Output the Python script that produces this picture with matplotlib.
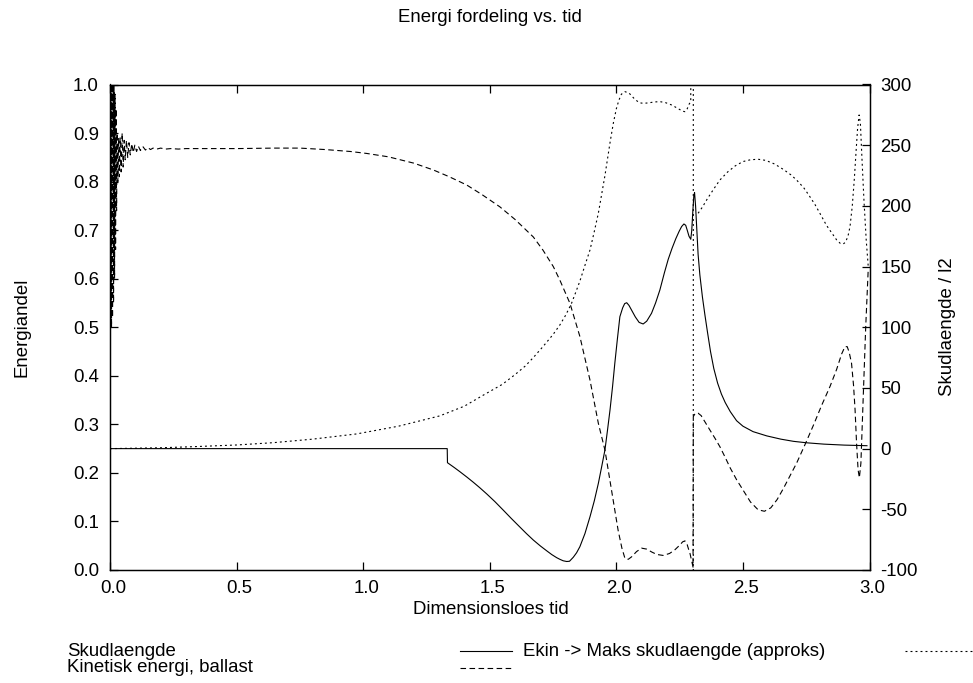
import matplotlib
matplotlib.use("Agg")
import matplotlib.pyplot as plt
import matplotlib.transforms as mtransforms
from matplotlib.lines import Line2D

plt.rcParams["font.family"] = ["Liberation Sans", "DejaVu Sans"]
plt.rcParams["font.size"] = 13.4
plt.rcParams["lines.scale_dashes"] = False

NAN = float("nan")

# Skudlaengde (right axis)
t_range = [0.0, 1.332, 1.333, 1.360, 1.382, 1.410, 1.435, 1.460, 1.488, 1.520, 1.553, 1.585,
           1.619, 1.645, 1.672, 1.700, 1.725, 1.745, 1.764, 1.777, 1.790, 1.804, 1.815, 1.830,
           1.843, 1.856, 1.876, 1.896, 1.913, 1.929, 1.942, 1.955, 1.965, 1.975, 1.985, 1.994,
           2.004, 2.014, 2.025, 2.033, 2.041, 2.050, 2.060, 2.075, 2.090, 2.106, 2.120, 2.139,
           2.155, 2.172, 2.190, 2.205, 2.220, 2.235, 2.248, 2.258, 2.267, 2.274, 2.280, 2.287,
           2.294, 2.298, 2.302, 2.306, 2.309, 2.313, 2.318, 2.323, 2.330, 2.340, 2.350, 2.360,
           2.372, 2.385, 2.400, 2.415, 2.430, 2.450, 2.475, 2.500, 2.540, 2.594, 2.650, 2.700,
           2.752, 2.820, 2.900, 2.990]
range_vals = [0.0, 0.0, -11.6, -15.6, -19.0, -23.5, -27.7, -32.1, -37.3, -43.6, -50.6, -57.5,
              -64.6, -70.0, -75.3, -80.2, -84.2, -87.3, -89.8, -91.2, -92.4, -93.0, -92.8, -89.5,
              -85.8, -80.8, -70.0, -56.1, -43.0, -28.6, -15.0, -1.1, 15.0, 31.8, 51.0, 70.3,
              90.0, 108.7, 116.0, 119.5, 120.2, 118.0, 114.2, 108.5, 104.0, 102.7, 105.0, 111.5,
              120.0, 130.7, 145.0, 156.0, 165.0, 173.0, 179.0, 183.0, 185.1, 184.0, 180.0, 175.0,
              172.5, 180.0, 195.0, 208.0, 210.9, 200.0, 180.0, 160.0, 143.0, 125.0, 110.0, 96.0,
              80.0, 66.0, 54.0, 45.0, 38.0, 30.5, 23.0, 18.5, 14.0, 10.5, 7.8, 6.0,
              4.8, 3.7, 2.9, 2.4]

# Ekin -> Maks skudlaengde (approks) (right axis)
t_approx = [0.0, 0.200, 0.329, 0.500, 0.645, 0.800, 0.974, 1.140, 1.303, 1.400, 1.474, 1.550,
            1.600, 1.640, 1.672, 1.710, 1.750, 1.777, 1.800, 1.823, 1.840, 1.856, 1.876, 1.896,
            1.912, 1.929, 1.955, 1.975, 1.988, 2.000, 2.010, 2.020, 2.034, 2.050, 2.070, 2.090,
            2.106, 2.125, 2.150, 2.172, 2.195, 2.220, 2.245, 2.262, 2.271, 2.280, 2.288, 2.294,
            2.303, 2.304, 2.304, NAN, 2.323, 2.340, 2.360, 2.385, 2.409, 2.440, 2.470, 2.500,
            2.530, 2.560, 2.590, 2.625, 2.660, 2.690, 2.712, 2.740, 2.760, 2.785, 2.804, 2.830,
            2.850, 2.870, 2.885, 2.896, 2.905, 2.915, 2.923, 2.932, 2.940, 2.947, 2.953, 2.959,
            2.964, 2.970, 2.978, 2.987, 2.995]
approx_vals = [0.0, 0.7, 1.6, 3.0, 4.9, 7.8, 12.1, 18.5, 27.0, 35.0, 44.0, 53.0,
               61.0, 68.0, 75.0, 84.0, 94.0, 101.9, 110.0, 119.7, 129.0, 138.0, 151.0, 163.7,
               178.0, 194.0, 225.0, 252.0, 268.0, 280.0, 287.0, 292.0, 294.1, 293.0, 288.5, 285.0,
               284.5, 284.8, 285.6, 285.9, 285.0, 283.0, 280.0, 278.0, 277.6, 280.0, 284.0, 285.9,
               1500.0, 1500.0, -1500.0, NAN, 193.9, 199.0, 206.0, 214.0, 221.3, 228.0, 233.0, 236.5,
               238.0, 238.4, 237.5, 234.5, 230.0, 225.5, 221.3, 215.0, 209.0, 201.0, 193.9, 184.0,
               178.0, 172.0, 169.0, 168.6, 170.0, 175.0, 182.9, 200.0, 222.0, 245.0, 264.0, 274.9,
               268.0, 240.0, 205.0, 172.0, 150.0]

# Kinetisk energi, ballast (left axis)
t_kin = [0.000, 0.002, 0.004, 0.006, 0.008, 0.010, 0.012, 0.014, 0.016, 0.018, 0.020, 0.022,
         0.024, 0.026, 0.028, 0.031, 0.034, 0.037, 0.040, 0.044, 0.048, 0.052, 0.056, 0.060,
         0.065, 0.070, 0.075, 0.080, 0.086, 0.092, 0.098, 0.105, 0.112, 0.120, 0.130, 0.140,
         0.150, 0.160, 0.170, 0.185, 0.200, 0.220, 0.240, 0.270, 0.300, 0.500, 0.650, 0.750,
         0.850, 0.950, 1.014, 1.100, 1.200, 1.277, 1.340, 1.409, 1.470, 1.540, 1.600, 1.672,
         1.710, 1.751, 1.777, 1.817, 1.856, 1.896, 1.929, 1.955, 1.981, 2.007, 2.022, 2.034,
         2.047, 2.060, 2.080, 2.100, 2.120, 2.140, 2.160, 2.185, 2.210, 2.230, 2.250, 2.262,
         2.271, 2.280, 2.287, 2.291, 2.297, 2.303, 2.304, 2.312, 2.323, 2.335, 2.350, 2.370,
         2.390, 2.409, 2.430, 2.450, 2.475, 2.500, 2.530, 2.560, 2.585, 2.610, 2.635, 2.660,
         2.685, 2.712, 2.745, 2.780, 2.810, 2.844, 2.870, 2.890, 2.903, 2.912, 2.920, 2.929,
         2.937, 2.943, 2.949, 2.955, 2.960, 2.966, 2.975, 2.985, 2.995]
kin_vals = [1.02, 0.50, 1.03, 0.50, 1.02, 0.52, 1.01, 0.55, 1.00, 0.60, 0.98, 0.66,
            0.95, 0.74, 0.90, 0.80, 0.89, 0.81, 0.89, 0.82, 0.90, 0.83, 0.885, 0.845,
            0.885, 0.85, 0.88, 0.855, 0.878, 0.86, 0.875, 0.862, 0.873, 0.864, 0.872, 0.865,
            0.870, 0.866, 0.869, 0.867, 0.869, 0.867, 0.868, 0.867, 0.868, 0.868, 0.869, 0.869,
            0.866, 0.862, 0.858, 0.851, 0.838, 0.824, 0.810, 0.793, 0.773, 0.748, 0.722, 0.686,
            0.659, 0.625, 0.597, 0.549, 0.481, 0.391, 0.302, 0.247, 0.165, 0.082, 0.045, 0.024,
            0.022, 0.027, 0.038, 0.045, 0.043, 0.037, 0.032, 0.030, 0.034, 0.041, 0.051, 0.058,
            0.060, 0.052, 0.040, 0.034, 0.020, 0.006, 0.316, 0.323, 0.323, 0.318, 0.305, 0.288,
            0.271, 0.254, 0.232, 0.210, 0.186, 0.165, 0.140, 0.124, 0.121, 0.128, 0.145, 0.168,
            0.193, 0.220, 0.258, 0.300, 0.338, 0.378, 0.413, 0.445, 0.460, 0.460, 0.448, 0.426,
            0.380, 0.330, 0.260, 0.206, 0.190, 0.220, 0.350, 0.500, 0.620]

x_ticks = [0.0, 0.5, 1.0, 1.5, 2.0, 2.5, 3.0]
y_ticks = [0.0, 0.1, 0.2, 0.3, 0.4, 0.5, 0.6, 0.7, 0.8, 0.9, 1.0]
y2_ticks = [-100, -50, 0, 50, 100, 150, 200, 250, 300]

DASHED = (0, (4.0, 2.5))
DOTTED = (0, (1.4, 2.2))

fig = plt.figure(figsize=(9.73, 6.83), dpi=100)
ax = fig.add_axes([110 / 973, 1 - 570 / 683, 759.5 / 973, 485.5 / 683])
ax2 = ax.twinx()

ax2.plot(t_range, range_vals, color="black", lw=0.8)
ax2.plot(t_approx, approx_vals, color="black", lw=0.8, linestyle=DOTTED)
ax.plot(t_kin, kin_vals, color="black", lw=0.8, linestyle=DASHED)

ax.set_xlim(0, 3)
ax.set_ylim(0, 1)
ax2.set_ylim(-100, 300)
ax.set_xticks(x_ticks)
ax.set_xticklabels([f"{v:.1f}" for v in x_ticks])
ax.set_yticks(y_ticks)
ax.set_yticklabels([f"{v:.1f}" for v in y_ticks])
ax2.set_yticks(y2_ticks)
ax2.set_yticklabels([str(v) for v in y2_ticks])

ax.tick_params(axis="x", direction="in", length=6, width=0.9, top=True, pad=7)
ax.tick_params(axis="y", direction="in", length=6, width=0.9, pad=8)
ax2.tick_params(axis="y", direction="in", length=6, width=0.9, pad=8)
for a in (ax, ax2):
    for s in a.spines.values():
        s.set_linewidth(0.9)

# gnuplot puts the x labels a few pixels right of the tick
shift = mtransforms.ScaledTranslation(3 / 100, 0, fig.dpi_scale_trans)
for lab in ax.get_xticklabels():
    lab.set_transform(lab.get_transform() + shift)

fig.text(0.5033, 1 - 18 / 683, "Energi fordeling vs. tid", ha="center", va="center")
fig.text(0.5046, 1 - 609 / 683, "Dimensionsloes tid", ha="center", va="center")
fig.text(22 / 973, 1 - 327 / 683, "Energiandel", rotation=90, ha="center", va="center")
fig.text(948 / 973, 1 - 327 / 683, "Skudlaengde / l2", rotation=90, ha="center", va="center")

# key below the plot, two columns like gnuplot
row1 = 1 - 651 / 683
row2 = 1 - 668 / 683
fig.text(67 / 973, row1, "Skudlaengde", ha="left", va="center")
fig.text(67 / 973, row2, "Kinetisk energi, ballast", ha="left", va="center")
fig.text(523 / 973, row1, "Ekin -> Maks skudlaengde (approks)", ha="left", va="center")
fig.add_artist(Line2D([460 / 973, 512 / 973], [row1, row1], color="black", lw=0.8,
                      transform=fig.transFigure))
fig.add_artist(Line2D([460 / 973, 512 / 973], [row2, row2], color="black", lw=0.8,
                      linestyle=DASHED, transform=fig.transFigure))
fig.add_artist(Line2D([905 / 973, 1.0], [row1, row1], color="black", lw=0.8,
                      linestyle=DOTTED, transform=fig.transFigure))

fig.savefig("out.png", dpi=100)
